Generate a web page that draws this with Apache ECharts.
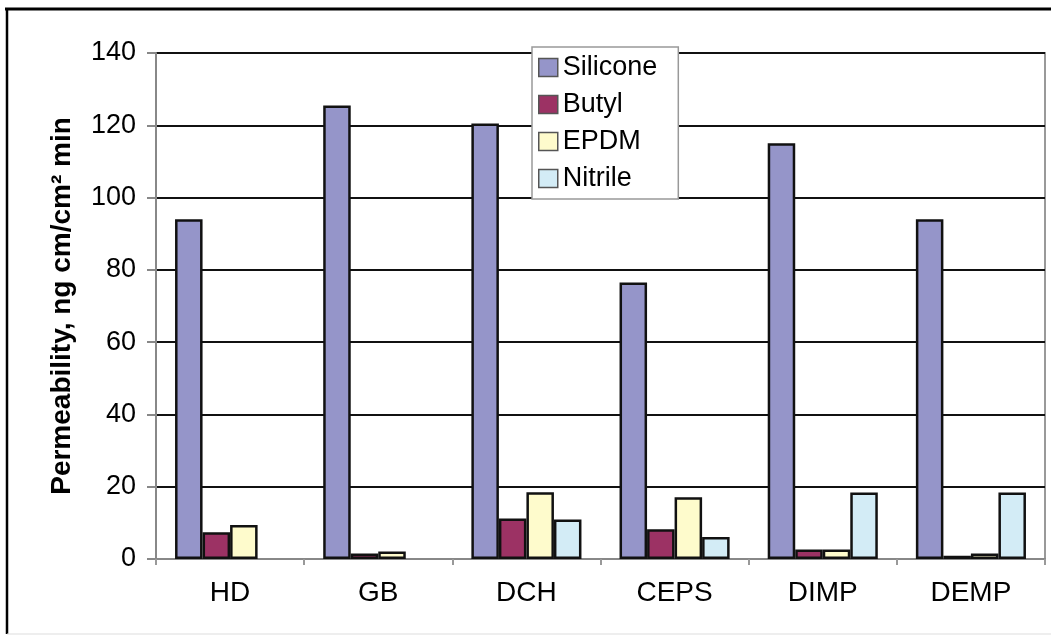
<!DOCTYPE html>
<html>
<head>
<meta charset="utf-8">
<script src="https://cdn.jsdelivr.net/npm/echarts@6/dist/echarts.min.js"></script>
<style>
  html, body { margin: 0; padding: 0; background: #fff; }
  #chart { width: 1051px; height: 637px; }
</style>
</head>
<body>
<div id="chart"></div>
<script>
// categories and values
const agents = ['HD', 'GB', 'DCH', 'CEPS', 'DIMP', 'DEMP'];
const silicone = [94, 125.5, 120.5, 76.5, 115, 94];
const butyl = [7.4, 1.5, 11.2, 8.2, 2.6, 0.9];
const epdm = [9.4, 2.1, 18.5, 17.1, 2.6, 1.5];
const nitrile = [null, null, 10.9, 6.1, 18.4, 18.4]; // no nitrile bar for HD / GB
const yTicks = [0, 20, 40, 60, 80, 100, 120, 140];

const font = '"Liberation Sans", Arial, sans-serif';

const chart = echarts.init(document.getElementById('chart'));

const barStyle = (color) => ({
  color: color,
  borderColor: '#111',
  borderWidth: 2.5
});

const option = {
  animation: false,
  backgroundColor: '#fff',
  textStyle: { fontFamily: font },
  grid: {
    left: 156,
    right: 6,
    top: 53,
    bottom: 78,
    show: true,
    borderColor: '#999',
    borderWidth: 2
  },
  legend: {
    orient: 'vertical',
    left: 532,
    top: 47,
    padding: [7, 21, 7, 6],
    icon: 'rect',
    itemWidth: 19,
    itemHeight: 18,
    itemGap: 10,
    itemStyle: { borderColor: '#555', borderWidth: 1.5 },
    backgroundColor: '#fff',
    borderColor: '#999',
    borderWidth: 1.5,
    borderRadius: 0,
    textStyle: { fontFamily: font, fontSize: 27, color: '#000' },
    data: ['Silicone', 'Butyl', 'EPDM', 'Nitrile']
  },
  xAxis: {
    type: 'category',
    data: agents,
    axisLine: { lineStyle: { color: '#888', width: 2 } },
    axisTick: { show: true, length: 6, lineStyle: { color: '#999', width: 2 } },
    axisLabel: { fontFamily: font, fontSize: 28, color: '#000', margin: 20 }
  },
  yAxis: {
    type: 'value',
    min: yTicks[0],
    max: yTicks[yTicks.length - 1],
    interval: 20,
    name: 'Permeability, ng cm/cm² min',
    nameLocation: 'middle',
    nameGap: 80,
    nameTextStyle: { fontFamily: font, fontSize: 28, fontWeight: 'bold', color: '#000' },
    axisLine: { show: true, lineStyle: { color: '#888', width: 2 } },
    axisTick: { show: true, length: 9, lineStyle: { color: '#888', width: 2 } },
    axisLabel: { fontFamily: font, fontSize: 27, color: '#000', margin: 20 },
    splitLine: { show: true, lineStyle: { color: '#111', width: 2 } }
  },
  series: [
    { name: 'Silicone', type: 'bar', data: silicone, itemStyle: barStyle('#9595C9'), barGap: '0%', barCategoryGap: '25.7%' },
    { name: 'Butyl', type: 'bar', data: butyl, itemStyle: barStyle('#9C3264') },
    { name: 'EPDM', type: 'bar', data: epdm, itemStyle: barStyle('#FEFBCC') },
    { name: 'Nitrile', type: 'bar', data: nitrile, itemStyle: barStyle('#D3ECF6') }
  ],
  graphic: [
    { type: 'line', shape: { x1: 5, y1: 9, x2: 1051, y2: 9 }, style: { stroke: '#000', lineWidth: 3 } },
    { type: 'line', shape: { x1: 7, y1: 8, x2: 7, y2: 634 }, style: { stroke: '#000', lineWidth: 2.5 } },
    { type: 'line', shape: { x1: 7, y1: 634, x2: 1051, y2: 634 }, style: { stroke: '#ddd', lineWidth: 1 } }
  ]
};

chart.setOption(option);
</script>
</body>
</html>
